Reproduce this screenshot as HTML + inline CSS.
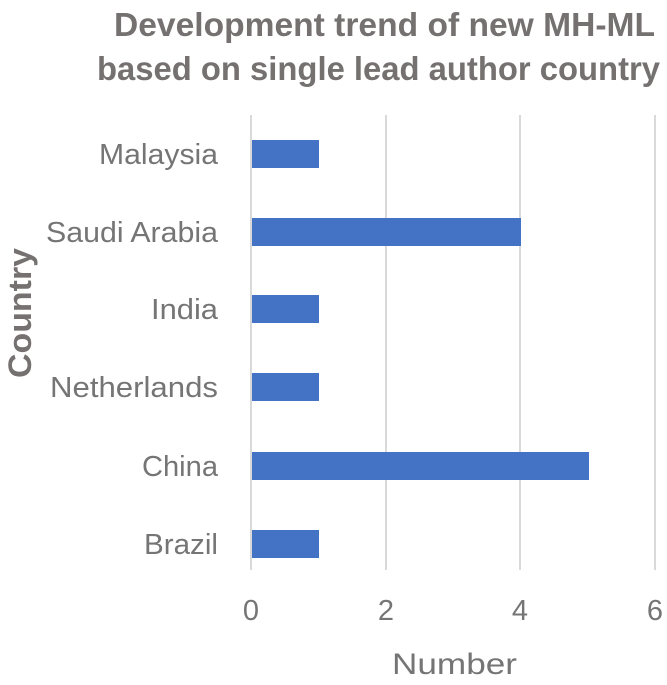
<!DOCTYPE html>
<html><head><meta charset="utf-8"><style>html,body{margin:0;padding:0;background:#fff}</style></head>
<body>
<svg width="667" height="680" xmlns="http://www.w3.org/2000/svg" font-family="Liberation Sans, sans-serif">
<rect width="667" height="680" fill="#fff"/>
<g fill="#757171" font-weight="bold" font-size="33">
<text x="114" y="36" textLength="541" lengthAdjust="spacingAndGlyphs">Development trend of new MH-ML</text>
<text x="97" y="80" textLength="563" lengthAdjust="spacingAndGlyphs">based on single lead author country</text>
</g>
<g stroke="#d9d9d9" stroke-width="2">
<line x1="251" y1="115" x2="251" y2="570"/>
<line x1="386" y1="115" x2="386" y2="570"/>
<line x1="520" y1="115" x2="520" y2="570"/>
<line x1="655" y1="115" x2="655" y2="570"/>
</g>
<g fill="#4472c4">
<rect x="252" y="140" width="67" height="28"/>
<rect x="252" y="218" width="269" height="28"/>
<rect x="252" y="295" width="67" height="28"/>
<rect x="252" y="373" width="67" height="28"/>
<rect x="252" y="452" width="337" height="28"/>
<rect x="252" y="530" width="67" height="28"/>
</g>
<g fill="#757575" font-size="29">
<text x="99" y="164" textLength="119" lengthAdjust="spacingAndGlyphs">Malaysia</text>
<text x="46" y="242" textLength="172" lengthAdjust="spacingAndGlyphs">Saudi Arabia</text>
<text x="151" y="319" textLength="67" lengthAdjust="spacingAndGlyphs">India</text>
<text x="50" y="397" textLength="168" lengthAdjust="spacingAndGlyphs">Netherlands</text>
<text x="142" y="476" textLength="76" lengthAdjust="spacingAndGlyphs">China</text>
<text x="144" y="554" textLength="74" lengthAdjust="spacingAndGlyphs">Brazil</text>
</g>
<g fill="#757575" font-size="29" text-anchor="middle">
<text x="251" y="620">0</text>
<text x="386" y="620">2</text>
<text x="520" y="620">4</text>
<text x="655" y="620">6</text>
</g>
<text x="392" y="674" fill="#757575" font-size="30" textLength="125" lengthAdjust="spacingAndGlyphs">Number</text>
<text transform="translate(31,378) rotate(-90)" fill="#757171" font-weight="bold" font-size="32" textLength="130" lengthAdjust="spacingAndGlyphs">Country</text>
</svg>
</body></html>
